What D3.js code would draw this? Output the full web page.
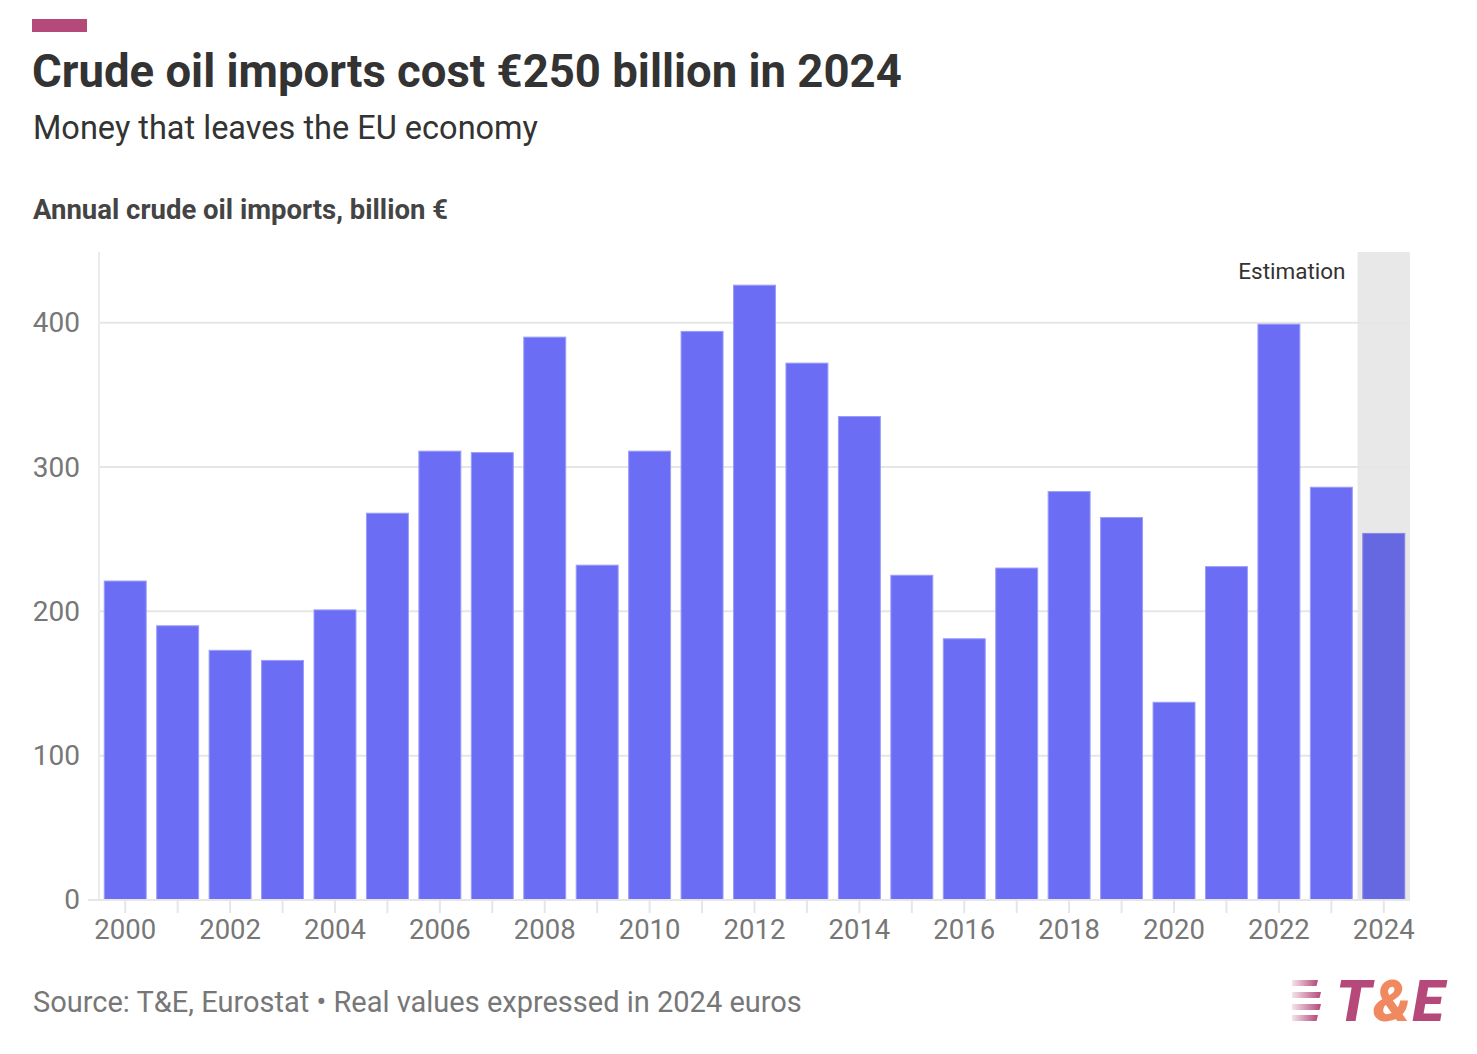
<!DOCTYPE html>
<html>
<head>
<meta charset="utf-8">
<script src="https://cdn.jsdelivr.net/npm/d3@7"></script>
<style>
  html, body { margin: 0; padding: 0; background: #fff; }
  svg { display: block; font-family: Roboto, "Noto Sans", sans-serif; }
</style>
</head>
<body>
<svg id="chart" width="1477" height="1054"></svg>
<script>
const years = [2000,2001,2002,2003,2004,2005,2006,2007,2008,2009,2010,2011,2012,2013,2014,2015,2016,2017,2018,2019,2020,2021,2022,2023,2024];
const imports = [221,190,173,166,201,268,311,310,390,232,311,394,426,372,335,225,181,230,283,265,137,231,399,286,254];
const estimatedYears = [2024];
const yTicks = [0,100,200,300,400];
const xLabelYears = years.filter(y => y % 2 === 0);

const title = "Crude oil imports cost €250 billion in 2024";
const subtitle = "Money that leaves the EU economy";
const axisTitle = "Annual crude oil imports, billion €";
const source = "Source: T&E, Eurostat • Real values expressed in 2024 euros";
const estimationLabel = "Estimation";

const svg = d3.select("#chart");
const W = 1477, H = 1054;
const m = { left: 99, right: 67, top: 252, bottom: 154 };
const plotW = W - m.left - m.right;
const plotH = H - m.top - m.bottom;

const x = d3.scaleBand().domain(years).range([m.left, m.left + plotW]).paddingInner(0.2).paddingOuter(0.1);
const y = d3.scaleLinear().domain([0, 449]).range([m.top + plotH, m.top]);

// Accent bar
svg.append("rect").attr("x", 32).attr("y", 19).attr("width", 55).attr("height", 13).attr("fill", "#b5497a");

svg.append("text").attr("x", 32).attr("y", 87).attr("font-size", 45.5).attr("font-weight", 700).attr("fill", "#333").text(title);
svg.append("text").attr("x", 33).attr("y", 139).attr("font-size", 32.5).attr("fill", "#333").text(subtitle);
svg.append("text").attr("x", 33).attr("y", 219).attr("font-size", 27.5).attr("font-weight", 700).attr("fill", "#444").text(axisTitle);

// Estimation band
const bandStep = x.step();
estimatedYears.forEach(yr => {
  const cx = x(yr) + x.bandwidth() / 2;
  svg.append("rect")
    .attr("x", cx - bandStep / 2).attr("y", m.top)
    .attr("width", bandStep).attr("height", plotH)
    .attr("fill", "#e8e8e8");
  svg.append("text").attr("x", cx - bandStep / 2 - 12).attr("y", 279)
    .attr("text-anchor", "end").attr("font-size", 22.5).attr("fill", "#333").text(estimationLabel);
});

// Gridlines
const grid = svg.append("g");
grid.selectAll("line").data(yTicks.filter(t => t > 0)).join("line")
  .attr("x1", m.left).attr("x2", m.left + plotW)
  .attr("y1", d => y(d)).attr("y2", d => y(d))
  .attr("stroke", "#e6e6e6").attr("stroke-width", 2);

// Y axis line
svg.append("line").attr("x1", m.left).attr("x2", m.left).attr("y1", m.top).attr("y2", y(0))
  .attr("stroke", "#ebebeb").attr("stroke-width", 2);

// Bars
svg.append("g").selectAll("rect").data(years.map((yr, i) => ({ yr, v: imports[i] }))).join("rect")
  .attr("x", d => x(d.yr)).attr("width", x.bandwidth())
  .attr("y", d => y(d.v)).attr("height", d => y(0) - y(d.v))
  .attr("fill", d => estimatedYears.includes(d.yr) ? "#6668e2" : "#6b6ef5")
  .attr("stroke", d => estimatedYears.includes(d.yr) ? "#8688e6" : "#9a9cf8")
  .attr("stroke-width", 1);

// X baseline
svg.append("line").attr("x1", 88).attr("x2", m.left + plotW).attr("y1", y(0)).attr("y2", y(0))
  .attr("stroke", "#e6e6e6").attr("stroke-width", 2);

// X axis
const xAxis = d3.axisBottom(x).tickSizeOuter(0).tickSize(13).tickPadding(6)
  .tickFormat(d => xLabelYears.includes(d) ? d : "");
const gx = svg.append("g").attr("transform", `translate(0,${y(0)})`).call(xAxis);
gx.select(".domain").remove();
gx.selectAll(".tick line").attr("stroke", "#e6e6e6").attr("stroke-width", 2);
gx.selectAll(".tick text").attr("font-size", 27.5).attr("fill", "#777").attr("font-family", "Roboto, sans-serif");

// Y axis
const yAxis = d3.axisLeft(y).tickValues(yTicks).tickSize(0).tickPadding(19);
const gy = svg.append("g").attr("transform", `translate(${m.left},0)`).call(yAxis);
gy.select(".domain").remove();
gy.selectAll(".tick text").attr("font-size", 28).attr("fill", "#777").attr("font-family", "Roboto, sans-serif");

// Source
svg.append("text").attr("x", 33).attr("y", 1012).attr("font-size", 29).attr("fill", "#777").text(source);

// Logo
const defs = svg.append("defs");
const lg = defs.append("linearGradient").attr("id", "stripeGrad").attr("x1", "0%").attr("x2", "100%");
lg.append("stop").attr("offset", "0%").attr("stop-color", "#b5497a").attr("stop-opacity", 0.15);
lg.append("stop").attr("offset", "100%").attr("stop-color", "#b5497a").attr("stop-opacity", 1);
const logo = svg.append("g");
[[980, 26], [992, 29], [1004, 29], [1015, 26]].forEach(([yy, w]) => {
  logo.append("path")
    .attr("d", `M1292,${yy} L${1292 + w},${yy} L${1292 + w - 1.5},${yy + 6} L1292,${yy + 6} Z`)
    .attr("fill", "url(#stripeGrad)");
});
const lt = logo.append("text").attr("x", 1336).attr("y", 1021).attr("font-size", 58)
  .attr("letter-spacing", 1.5)
  .attr("font-weight", 900).attr("font-style", "italic").attr("font-family", "Roboto, 'Open Sans', sans-serif");
lt.append("tspan").attr("fill", "#b5497a").text("T");
lt.append("tspan").attr("fill", "#f0895f").text("&");
lt.append("tspan").attr("fill", "#b5497a").text("E");
</script>
</body>
</html>
